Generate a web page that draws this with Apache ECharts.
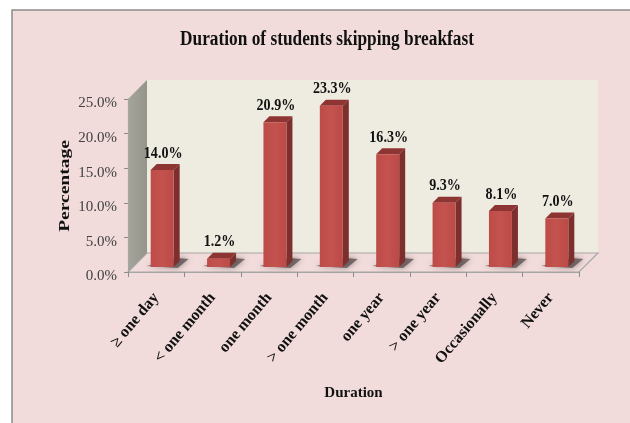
<!DOCTYPE html>
<html>
<head>
<meta charset="utf-8">
<style>
html, body { margin: 0; padding: 0; background: #fff; }
#chart { width: 630px; height: 423px; filter: blur(0.4px); }
</style>
<script src="https://cdn.jsdelivr.net/npm/echarts@6/dist/echarts.min.js"></script>
</head>
<body>
<div id="chart"></div>
<script>
var categories = ["\u2265 one day", "< one month", "one month", "> one month", "one year", "> one year", "Occasionally", "Never"];
var percentages = [14.0, 1.2, 20.9, 23.3, 16.3, 9.3, 8.1, 7.0];
var percentTicks = [0, 5, 10, 15, 20, 25];

var serif = "'Liberation Serif', serif";
var wallDepth = 19;
var barDepth = 6;
var barWidth = 23;

function poly(points, fill, extra) {
    return {
        type: "polygon",
        shape: { points: points },
        style: Object.assign({ fill: fill }, extra || {}),
    };
}

// back wall, side wall and floor of the 3d box
function renderWalls(params, api) {
    var c = params.coordSys;
    var l = c.x, r = c.x + c.width, t = c.y, b = c.y + c.height, d = wallDepth;
    var edge = "#a6a6a6";
    return {
        type: "group",
        children: [
            poly([[l + d, t - d], [r + d, t - d], [r + d, b - d], [l + d, b - d]], "#eeece1"),
            poly([[l, t], [l + d, t - d], [l + d, b - d], [l, b]], {
                type: "linear", x: 0, y: 0, x2: 1, y2: 0,
                colorStops: [{ offset: 0, color: "#a5a59b" }, { offset: 1, color: "#94948b" }],
            }),
            poly([[l, b], [l + d, b - d], [r + d, b - d], [r, b]], "#f2dcdb", { stroke: edge, lineWidth: 1.2 }),
        ],
    };
}

function renderBar(params, api) {
    var base = api.coord([api.value(0), 0]);
    var top = api.coord([api.value(0), api.value(1)]);
    var x0 = base[0] + 6 - barWidth / 2;
    var x1 = x0 + barWidth;
    var y0 = base[1] - 5;
    var y1 = top[1] - 5;
    var d = barDepth;
    return {
        type: "group",
        children: [
            poly([[x0 - 4, y0 - 1], [x1 + 4, y0 + 1], [x1 + 15, y0 - 8], [x1 + 4, y0 - 9]], "rgba(80,70,70,0.7)", {
                shadowBlur: 6,
                shadowColor: "rgba(80,70,70,0.8)",
            }),
            poly([[x1, y1], [x1 + d, y1 - d], [x1 + d, y0 - d], [x1, y0]], "#7d2f2d"),
            poly([[x0, y1], [x0 + d, y1 - d], [x1 + d, y1 - d], [x1, y1]], "#8e3432"),
            {
                type: "rect",
                shape: { x: x0, y: y1, width: barWidth, height: y0 - y1 },
                style: {
                    fill: {
                        type: "linear", x: 0, y: 0, x2: 1, y2: 0,
                        colorStops: [{ offset: 0, color: "#bd4c49" }, { offset: 0.5, color: "#c4524f" }, { offset: 1, color: "#bb4b48" }],
                    },
                },
            },
            {
                type: "text",
                x: x0 + barWidth / 2 + 1,
                y: y1 - 16.5,
                scaleX: 0.88,
                style: {
                    text: api.value(1).toFixed(1) + "%",
                    align: "center",
                    verticalAlign: "middle",
                    fill: "#111",
                    font: "bold 16px " + serif,
                },
            },
        ],
    };
}

var myChart = echarts.init(document.getElementById("chart"));
var option = {
    backgroundColor: "#ffffff",
    animation: false,
    graphic: [{
            type: "rect",
            z: -10,
            shape: { x: 12, y: 10, width: 640, height: 440 },
            style: { fill: "#f2dcdb", stroke: "#8c8c8c", lineWidth: 1.5 },
        },
        {
            type: "text",
            x: 327,
            y: 40,
            scaleX: 0.865,
            style: {
                text: "Duration of students skipping breakfast",
                textAlign: "center",
                textVerticalAlign: "middle",
                fill: "#111",
                font: "bold 20px " + serif,
            },
        },
        {
            type: "text",
            x: 65,
            y: 186,
            rotation: Math.PI / 2,
            scaleX: 1.3,
            style: {
                text: "Percentage",
                textAlign: "center",
                textVerticalAlign: "middle",
                fill: "#111",
                font: "bold 15px " + serif,
            },
        },
    ],
    grid: { left: 128, right: 51, top: 99, bottom: 151 },
    xAxis: {
        type: "category",
        data: categories,
        z: 3,
        name: "Duration",
        nameLocation: "middle",
        nameGap: 114,
        nameTextStyle: { fontFamily: serif, fontWeight: "bold", fontSize: 15, color: "#111" },
        axisLine: { lineStyle: { color: "#a6a6a6", width: 1.2 } },
        axisTick: { show: true, length: 5, alignWithLabel: false, lineStyle: { color: "#8c8c8c" } },
        axisLabel: {
            interval: 0,
            rotate: 50,
            margin: 23,
            fontFamily: serif,
            fontWeight: "bold",
            fontSize: 16,
            color: "#111",
        },
    },
    yAxis: {
        type: "value",
        min: percentTicks[0],
        max: percentTicks[percentTicks.length - 1],
        interval: percentTicks[1] - percentTicks[0],
        z: 3,
        splitLine: { show: false },
        axisLine: { show: true, lineStyle: { color: "#a6a6a6", width: 1.2 } },
        axisTick: { show: true, length: 4, lineStyle: { color: "#8c8c8c" } },
        axisLabel: {
            margin: 11,
            verticalAlign: "top",
            lineHeight: 9,
            fontFamily: serif,
            fontSize: 15,
            color: "#404040",
            formatter: function(v) {
                return v.toFixed(1) + "%";
            },
        },
    },
    series: [{
            type: "custom",
            z: 1,
            clip: false,
            silent: true,
            renderItem: renderWalls,
            data: [[0, 0]],
            encode: { x: 0, y: 1 },
        },
        {
            type: "custom",
            z: 5,
            clip: false,
            renderItem: renderBar,
            data: percentages.map(function(v, i) {
                return [i, v];
            }),
            encode: { x: 0, y: 1 },
        },
    ],
};
myChart.setOption(option);
</script>
</body>
</html>
